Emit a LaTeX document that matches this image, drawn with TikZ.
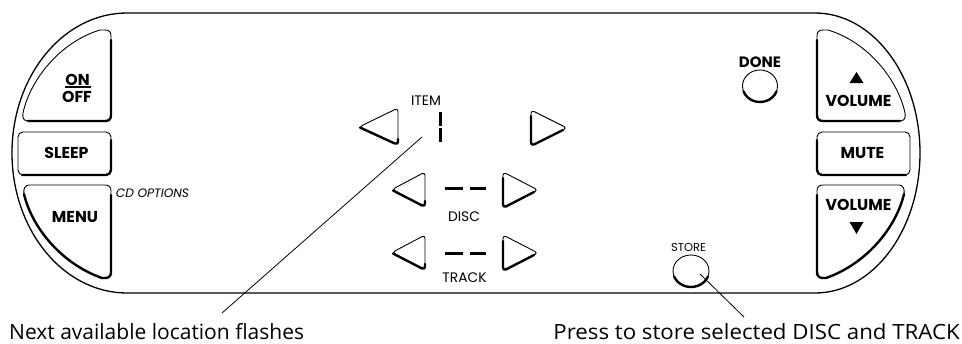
\documentclass[tikz,border=0pt]{standalone}
\usepackage{fontspec}
\newfontfamily\btnfont{Poppins}
\newfontfamily\capfont{Open Sans}
\newfontfamily\capfontw{Open Sans}[FakeStretch=1.06]
\begin{document}
\begin{tikzpicture}[x=1pt,y=-1pt,
  shell/.style={line width=1.3pt},
  btn/.style={line width=0.9pt, line join=round},
  shadow/.style={line width=2.4pt, line cap=round, line join=round},
  blabel/.style={font=\btnfont\bfseries\fontsize{15.8}{15.8}\selectfont, inner sep=0pt},
  rlabel/.style={font=\btnfont\fontsize{13.8}{13.8}\selectfont, inner sep=0pt},
  ilabel/.style={font=\btnfont\itshape\fontsize{12.2}{12.2}\selectfont, inner sep=0pt},
  caption/.style={font=\capfont\fontsize{21}{21}\selectfont, inner sep=0pt},
  captionw/.style={font=\capfontw\fontsize{21}{21}\selectfont, inner sep=0pt},
  callout/.style={line width=0.8pt},
  seg/.style={line width=3pt},
]
\useasboundingbox (0,0) rectangle (962,343);
% outer shell
\draw[shell] (127,13) -- (815,13)
  arc[start angle=-90,end angle=90,x radius=105,y radius=140]
  -- (127,293)
  arc[start angle=90,end angle=270,x radius=115,y radius=140] -- cycle;
% left-hand buttons and their mirror images on the right
\foreach \sx/\sh in {1/0, -1/928}{
\begin{scope}[x=\sx pt, xshift=\sh pt]
  % top button
  \draw[shadow] (28,121) -- (105,121) .. controls (109,121) and (111,119) .. (111,115) -- (111,40);
  \draw[btn] (28,121) -- (105,121) .. controls (109,121) and (111,119) .. (111,115)
    -- (111,36) .. controls (111,32) and (109,30) .. (105,30) -- (100,30)
    .. controls (60,42) and (30,80) .. (23,113)
    .. controls (22,118) and (24,121) .. (28,121) -- cycle;
  % middle button
  \draw[shadow, rounded corners=5] (22,175) -- (111,175) -- (111,140);
  \draw[btn, rounded corners=5] (18,132) rectangle (111,175);
  % bottom button
  \draw[shadow] (24,194) .. controls (32,228) and (62,264) .. (102,278) -- (105,278)
    .. controls (109,278) and (111,276) .. (111,272) -- (111,195);
  \draw[btn] (29,185) -- (105,185) .. controls (109,185) and (111,187) .. (111,191)
    -- (111,272) .. controls (111,276) and (109,278) .. (105,278) -- (102,278)
    .. controls (62,264) and (32,228) .. (24,194)
    .. controls (23,189) and (25,185) .. (29,185) -- cycle;
\end{scope}}
% left labels
\node[blabel] (on) at (77.5,79.5) {ON};
\draw[line width=1.4pt] (64.5,87) -- (90.5,87);
\node[blabel] (off) at (77,97) {OFF};
\node[blabel] (sleep) at (66.5,153) {SLEEP};
\node[blabel] (menu) at (75,217.5) {MENU};
\node[ilabel] (cdopt) at (152.5,193.5) {CD OPTIONS};
% right labels
\fill (849.5,83) -- (863.5,83) -- (856.5,72) -- cycle;
\node[blabel] (volup) at (858.5,101) {VOLUME};
\node[blabel] (mute) at (862.5,153) {MUTE};
\node[blabel] (voldn) at (858.5,205) {VOLUME};
\fill (849.5,222) -- (863.5,222) -- (856.5,234) -- cycle;
% DONE
\node[blabel, font=\btnfont\bfseries\fontsize{15}{15}\selectfont] (done) at (760,62.5) {DONE};
\draw[shadow] ([shift={(160:17.5 and 16)}]760,86) arc[start angle=160,end angle=20,x radius=17.5,y radius=16];
\draw[btn] (760,86) ellipse[x radius=17.5,y radius=16];
% STORE
\node[rlabel, font=\btnfont\fontsize{11.5}{11.5}\selectfont] (store) at (688.5,247) {STORE};
\draw[shadow] ([shift={(160:18 and 16)}]691,271) arc[start angle=160,end angle=20,x radius=18,y radius=16];
\draw[btn] (691,271) ellipse[x radius=18,y radius=16];
% ITEM row
\node[rlabel] (item) at (426,101) {ITEM};
\draw[shadow, rounded corners=3.5] (360,127.5) -- (398,145) -- (398,139);
\draw[btn, rounded corners=3.5] (398,108) -- (398,145) -- (359,127) -- cycle;
\draw[shadow, rounded corners=3.5] (531,116) -- (531,146) -- (563,130);
\draw[btn, rounded corners=3.5] (531,110) -- (567,128) -- (531,146) -- cycle;
\draw[seg] (440.5,112) -- (440.5,125.5);
\draw[seg] (440.5,128) -- (440.5,142);
% DISC row
\draw[shadow, rounded corners=3.5] (393,190.5) -- (425,207) -- (425,201);
\draw[btn, rounded corners=3.5] (425,172) -- (425,207) -- (392,189.5) -- cycle;
\draw[shadow, rounded corners=3.5] (503,178) -- (503,208) -- (534,192);
\draw[btn, rounded corners=3.5] (503,172) -- (538,190) -- (503,208) -- cycle;
\draw[seg] (445,188) -- (463,188);
\draw[seg] (470,188) -- (486,188);
\node[rlabel] (disc) at (464,217) {DISC};
% TRACK row
\draw[shadow, rounded corners=3.5] (393,253.5) -- (425,270) -- (425,264);
\draw[btn, rounded corners=3.5] (425,235) -- (425,270) -- (392,252.5) -- cycle;
\draw[shadow, rounded corners=3.5] (503,241) -- (503,271) -- (534,255);
\draw[btn, rounded corners=3.5] (503,235) -- (538,253) -- (503,271) -- cycle;
\draw[seg] (445,253) -- (463,253);
\draw[seg] (470,253) -- (486,253);
\node[rlabel] (track) at (464.5,277.5) {TRACK};
% captions and callouts
\node[caption, anchor=base west] (capL) at (9,339) {Next available location flashes};
\node[captionw, anchor=base east] (capR) at (960,339) {Press to store selected DISC and TRACK};
\coordinate (p1) at (422,137);
\coordinate (p1e) at (222,313);
\draw[callout] (p1) -- (p1e);
\coordinate (s1) at (700,274);
\coordinate (s1e) at (744,317);
\draw[callout] (s1) -- (s1e);
\end{tikzpicture}
\end{document}
